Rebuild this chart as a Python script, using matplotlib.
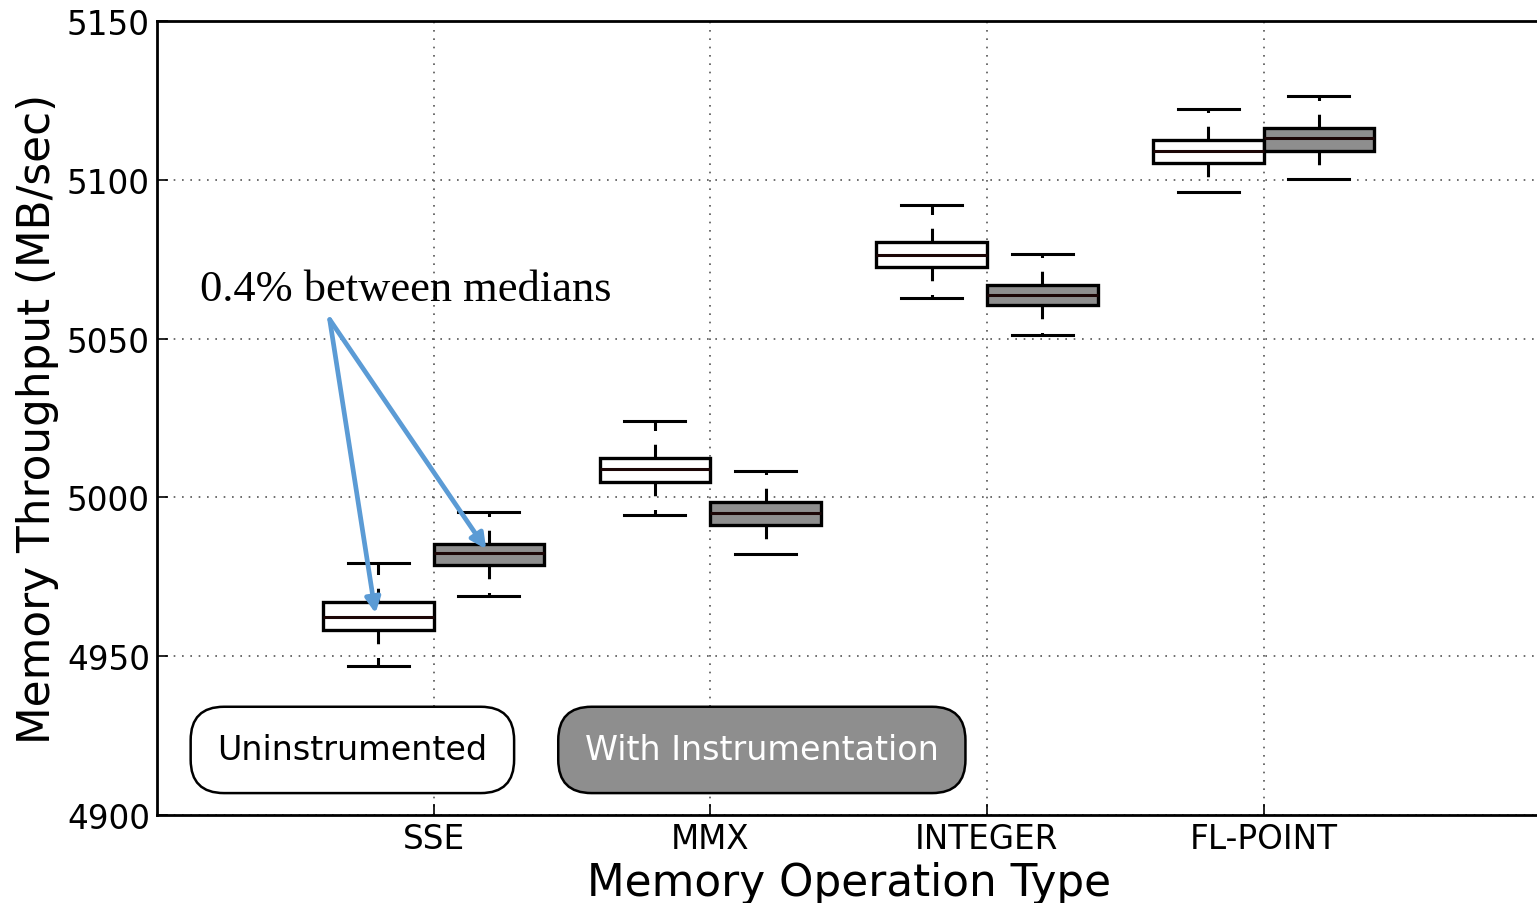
import matplotlib
matplotlib.use("Agg")
import matplotlib.pyplot as plt

# Memory throughput (MB/sec) box statistics per operation type
categories = ["SSE", "MMX", "INTEGER", "FL-POINT"]

# Uninstrumented runs: whisker low, q1, median, q3, whisker high
base_wlo = [4946.9, 4994.5, 5062.8, 5096.2]
base_q1 = [4958.2, 5004.8, 5072.5, 5105.3]
base_med = [4962.3, 5008.9, 5076.3, 5109.1]
base_q3 = [4967.1, 5012.4, 5080.4, 5112.5]
base_whi = [4979.3, 5024.1, 5092.1, 5122.3]

# Runs with instrumentation enabled
inst_wlo = [4969.0, 4982.2, 5051.1, 5100.3]
inst_q1 = [4978.7, 4991.3, 5060.6, 5109.1]
inst_med = [4982.5, 4995.1, 5063.7, 5113.2]
inst_q3 = [4985.3, 4998.6, 5066.9, 5116.3]
inst_whi = [4995.4, 5008.3, 5076.6, 5126.4]

yticks = [4900, 4950, 5000, 5050, 5100, 5150]


def make_stats(wlo, q1, med, q3, whi):
    return [dict(whislo=a, q1=b, med=c, q3=d, whishi=e, fliers=[])
            for a, b, c, d, e in zip(wlo, q1, med, q3, whi)]


fig = plt.figure(figsize=(15.37, 9.04), dpi=100)
ax = fig.add_axes([0.1021, 0.0973, 0.9, 0.8784])

positions = list(range(1, len(categories) + 1))
offset = 0.2
width = 0.4
capw = 0.22

common = dict(
    widths=width,
    capwidths=capw,
    showfliers=False,
    patch_artist=True,
    whiskerprops=dict(color="black", linewidth=2.2, linestyle=(0, (4.5, 4.5))),
    capprops=dict(color="black", linewidth=2.2),
    medianprops=dict(color="#1c0606", linewidth=2.2),
    manage_ticks=False,
)

ax.bxp(make_stats(base_wlo, base_q1, base_med, base_q3, base_whi),
       positions=[p - offset for p in positions],
       boxprops=dict(facecolor="white", edgecolor="black", linewidth=2.4),
       **common)
ax.bxp(make_stats(inst_wlo, inst_q1, inst_med, inst_q3, inst_whi),
       positions=[p + offset for p in positions],
       boxprops=dict(facecolor="#8e8e8e", edgecolor="black", linewidth=2.4),
       **common)

ax.set_xlim(0, 5)
ax.set_ylim(4900, 5150)
ax.set_xticks(positions)
ax.set_xticklabels(categories)
ax.set_yticks(yticks)
ax.tick_params(axis="both", direction="in", length=8, width=1.2,
               labelsize=23.5, pad=5)
ax.grid(True, color="#555555", linestyle=(0, (1, 4)), linewidth=1.2)
ax.set_axisbelow(True)
for s in ax.spines.values():
    s.set_linewidth(2)

ax.set_ylabel("Memory Throughput (MB/sec)", fontsize=31.5, labelpad=6)
ax.set_xlabel("Memory Operation Type", fontsize=31.5, labelpad=4)

# Annotation pointing at the SSE medians
src = (0.6245, 5056.0)
for pos, med in [(1 - offset, base_med[0]), (1 + offset, inst_med[0])]:
    ax.annotate("", xy=(pos - 0.01, med + 1.2), xytext=src,
                arrowprops=dict(arrowstyle="-|>,head_length=0.9,head_width=0.45",
                                color="#5b9bd5", lw=3.4, shrinkA=0, shrinkB=0))
ax.text(0.155, 5065.5, "0.4% between medians", fontsize=32,
        family="Liberation Serif", va="center", ha="left")

# Series labels in rounded boxes
ax.text(0.1413, 0.082, "Uninstrumented", transform=ax.transAxes,
        fontsize=24, ha="center", va="center", color="black",
        bbox=dict(boxstyle="round,pad=0.8,rounding_size=1.0",
                  facecolor="white", edgecolor="black", linewidth=1.8))
ax.text(0.4373, 0.082, "With Instrumentation", transform=ax.transAxes,
        fontsize=24, ha="center", va="center", color="white",
        bbox=dict(boxstyle="round,pad=0.8,rounding_size=1.0",
                  facecolor="#8e8e8e", edgecolor="black", linewidth=1.8))

fig.savefig("out.png", dpi=100)
